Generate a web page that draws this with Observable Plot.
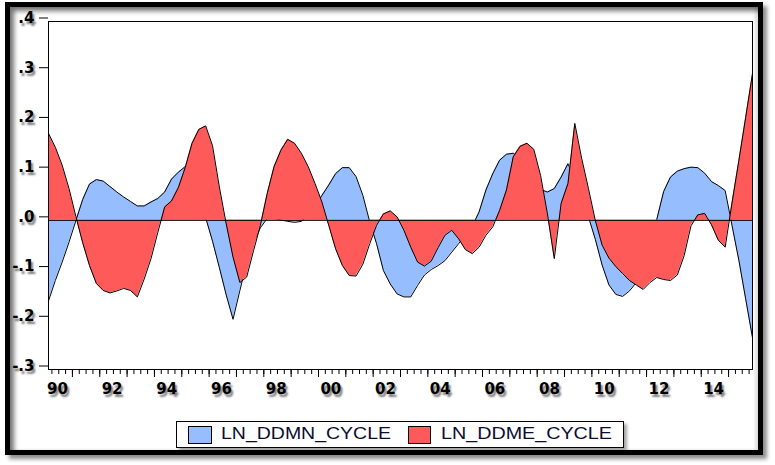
<!DOCTYPE html>
<html>
<head>
<meta charset="utf-8">
<script src="https://cdn.jsdelivr.net/npm/d3@7"></script>
<script src="https://cdn.jsdelivr.net/npm/@observablehq/plot@0.6"></script>
<style>
  html, body { margin: 0; padding: 0; background: #fff; }
  #wrap { position: relative; width: 775px; height: 465px; overflow: hidden; background: #fff; }
  #frame {
    position: absolute; left: 4.5px; top: 2px; width: 758.5px; height: 453px;
    box-sizing: border-box; border: 5.5px solid #000;
    box-shadow: 4px 4px 4px rgba(0,0,0,0.45), inset 4px 4px 5px rgba(0,0,0,0.55), inset -3px 0 3px rgba(0,0,0,0.12);
  }
  #chart { position: absolute; left: 0; top: 0; }
  #chart svg text { text-shadow: 2px 3px 2px rgba(0,0,0,0.5); }
  #legend {
    position: absolute; left: 176px; top: 421px; width: 448px; height: 27px;
    box-sizing: border-box; border: 1px solid #000; background: #fff;
    box-shadow: 3px 3px 3px rgba(0,0,0,0.35);
  }
</style>
</head>
<body>
<div id="wrap">
  <div id="frame"></div>
  <div id="chart"></div>
  <div id="legend"></div>
</div>
<script>
// ---- data (quarterly, 1990Q1 .. 2015Q4) ----
const startYear = 1990;
const seriesNames = ["LN_DDMN_CYCLE", "LN_DDME_CYCLE"];
const seriesColors = ["#96BEFF", "#FF5A5A"];
const ddmn = [
  -0.162, -0.121, -0.084, -0.044, -0.001, 0.042, 0.073, 0.082,
   0.079,  0.068,  0.057,  0.047,  0.038, 0.029, 0.029, 0.037,
   0.044,  0.057,  0.083,  0.097,  0.108, 0.085, 0.045, 0.005,
  -0.042, -0.095, -0.150, -0.199, -0.141, -0.085, -0.045, -0.015,
   0.004,  0.004,  0.001, -0.002, -0.004, -0.002, 0.010, 0.028,
   0.050,  0.071,  0.094,  0.106,  0.106, 0.088, 0.050, -0.003,
  -0.047, -0.101, -0.128, -0.148, -0.154, -0.154, -0.131, -0.110,
  -0.099, -0.091, -0.081, -0.064, -0.047, -0.030, -0.012, 0.017,
   0.061,  0.094,  0.121,  0.133,  0.135, 0.125, 0.105, 0.080,
   0.062,  0.057,  0.064,  0.087,  0.114, 0.080, 0.040, 0.007,
  -0.038, -0.090, -0.130, -0.149, -0.153, -0.142, -0.125, -0.090,
  -0.045,  0.002,  0.058,  0.087,  0.099, 0.104, 0.107, 0.106,
   0.095,  0.078,  0.070,  0.060, -0.010, -0.080, -0.158, -0.236
];
const ddme = [
   0.175,  0.147,  0.111,  0.064,  0.008, -0.045, -0.091, -0.127,
  -0.141, -0.146, -0.142, -0.137, -0.141, -0.154, -0.118, -0.077,
  -0.024,  0.027,  0.039,  0.066,  0.106,  0.155,  0.183,  0.190,
   0.150,  0.067, -0.007, -0.074, -0.125, -0.114, -0.061, -0.010,
   0.054,  0.108,  0.141,  0.163,  0.155,  0.135,  0.108,  0.074,
   0.037, -0.010, -0.057, -0.091, -0.111, -0.112, -0.088, -0.047,
  -0.010,  0.013,  0.019,  0.007, -0.020, -0.054, -0.084, -0.092,
  -0.082, -0.055, -0.030, -0.020, -0.037, -0.059, -0.067, -0.054,
  -0.030, -0.013,  0.020,  0.061,  0.128,  0.149,  0.155,  0.143,
   0.090,  0.013, -0.077,  0.034,  0.074,  0.195,  0.125,  0.064,
   0.000, -0.050, -0.076, -0.093, -0.107, -0.121, -0.130, -0.139,
  -0.125, -0.115, -0.119, -0.121, -0.110, -0.071, -0.011,  0.011,
   0.014, -0.009, -0.040, -0.054,  0.035,  0.120,  0.207,  0.295
];
const xLabelYears = [1990, 1992, 1994, 1996, 1998, 2000, 2002, 2004, 2006, 2008, 2010, 2012, 2014];
const xLabels = ["90", "92", "94", "96", "98", "00", "02", "04", "06", "08", "10", "12", "14"];
const yTicks = [-0.3, -0.2, -0.1, 0.0, 0.1, 0.2, 0.3, 0.4];
const yLabels = ["-.3", "-.2", "-.1", ".0", ".1", ".2", ".3", ".4"];

// ---- derived table ----
const data = ddmn.map((v, i) => ({ date: startYear + i / 4, ddmn: v, ddme: ddme[i] }));
const lastDate = data[data.length - 1].date;
// minor ticks halfway between observations, major ticks at year boundaries
const minorTicks = data.slice(1).map((d, i) => (data[i].date + d.date) / 2);
const majorTicks = minorTicks.filter(t => Math.abs((t + 0.125) - Math.round(t + 0.125)) < 1e-6);

const chart = Plot.plot({
  width: 775,
  height: 465,
  marginLeft: 48,
  marginRight: 23,
  marginTop: 21,
  marginBottom: 96,
  style: { background: "transparent", fontFamily: "DejaVu Sans", overflow: "visible" },
  x: { type: "linear", domain: [startYear, lastDate] },
  y: { domain: [yTicks[0], yTicks[yTicks.length - 1]] },
  marks: [
    Plot.areaY(data, { x: "date", y: "ddmn", fill: seriesColors[0] }),
    Plot.lineY(data, { x: "date", y: "ddmn", stroke: "#000", strokeWidth: 1 }),
    Plot.areaY(data, { x: "date", y: "ddme", fill: seriesColors[1] }),
    Plot.lineY(data, { x: "date", y: "ddme", stroke: "#000", strokeWidth: 1 }),
    Plot.ruleY([0], { stroke: "#000", strokeWidth: 1 }),
    Plot.frame({ stroke: "#000" }),
    Plot.axisY({
      ticks: yTicks, tickSize: 9, tickPadding: 5, label: null,
      tickFormat: d => yLabels[Math.round((d - yTicks[0]) * 10)],
      fontSize: 15, fontWeight: "bold", dy: -3.5, fill: "#000"
    }),
    Plot.axisX({ ticks: minorTicks, tickSize: 5, tickFormat: () => "", label: null }),
    Plot.axisX({ ticks: majorTicks, tickSize: 8, tickFormat: () => "", label: null }),
    Plot.axisX({
      ticks: xLabelYears, tickSize: 0, tickPadding: 14, label: null,
      tickFormat: d => xLabels[xLabelYears.indexOf(d)],
      textAnchor: "start", dx: -1.5, fontSize: 15, fontWeight: "bold", fill: "#000"
    })
  ]
});
document.getElementById("chart").appendChild(chart);

// ---- legend ----
const legend = d3.select("#legend").append("svg")
  .attr("width", 446).attr("height", 25)
  .style("display", "block");
const legendItems = [
  { name: seriesNames[0], color: seriesColors[0], sx: 11, sw: 23, tx: 44, tl: 170 },
  { name: seriesNames[1], color: seriesColors[1], sx: 231, sw: 22, tx: 264, tl: 171 }
];
legendItems.forEach(it => {
  legend.append("rect").attr("x", it.sx + 0.5).attr("y", 4.5).attr("width", it.sw).attr("height", 17)
    .attr("fill", it.color).attr("stroke", "#000").attr("stroke-width", 1);
  legend.append("text").attr("x", it.tx).attr("y", 16.5)
    .attr("font-family", "Liberation Sans, Arial, sans-serif").attr("font-size", 16)
    .attr("fill", "#0c0c30")
    .attr("textLength", it.tl).attr("lengthAdjust", "spacingAndGlyphs")
    .text(it.name);
});
</script>
</body>
</html>
